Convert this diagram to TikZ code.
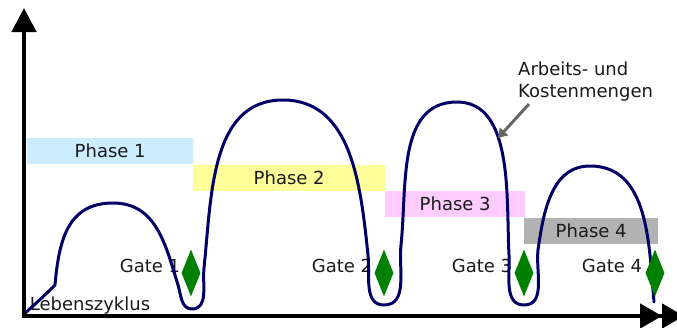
\documentclass[tikz,border=0pt]{standalone}
\usepackage{fontspec}
\setmainfont{DejaVu Sans}
\usetikzlibrary{arrows.meta,shapes.geometric}
\definecolor{curvecol}{HTML}{000066}
\definecolor{gatecol}{HTML}{008000}
\definecolor{p1col}{HTML}{CCECFF}
\definecolor{p2col}{HTML}{FFFF99}
\definecolor{p3col}{HTML}{FFCCFF}
\definecolor{p4col}{HTML}{B2B2B2}
\definecolor{txtcol}{HTML}{1A1A1A}
\definecolor{pointcol}{HTML}{666666}
\begin{document}
\begin{tikzpicture}[x=1pt,y=-1pt,
  lbl/.style={font=\fontsize{18}{22}\selectfont, text=txtcol, inner sep=0pt},
  phasebox/.style={lbl, anchor=north west, minimum height=26pt},
  gatemark/.style={diamond, fill=gatecol, draw=none, inner sep=0pt, minimum width=19pt, minimum height=47pt},
  axis/.style={line width=4.5pt, -{Triangle[length=24pt,width=24pt]}},
  haxis/.style={line width=4.5pt, -{Triangle[length=22pt,width=24pt]Triangle[length=22pt,width=24pt]}},
  curve/.style={draw=curvecol, line width=3pt, line join=round, line cap=round},
  pointer/.style={draw=pointcol, line width=3pt, -{Triangle[length=9pt,width=11pt]}}
]
\useasboundingbox (0,0) rectangle (677,327);
% phases
\node[phasebox, fill=p1col, minimum width=166pt] (ph1) at (27,138) {Phase 1};
\node[phasebox, fill=p2col, minimum width=192pt] (ph2) at (193,165) {Phase 2};
\node[phasebox, fill=p3col, minimum width=140pt] (ph3) at (385,191) {Phase 3};
\node[phasebox, fill=p4col, minimum width=134pt] (ph4) at (524,218) {Phase 4};
% gate labels
\node[lbl] (g1t) at (150,266) {Gate 1};
\node[lbl] (g2t) at (342,266) {Gate 2};
\node[lbl] (g3t) at (482,266) {Gate 3};
\node[lbl] (g4t) at (612,266) {Gate 4};
\node[lbl] (life) at (90,306) {Lebenszyklus};
% curve
\draw[curve] (23,315) to[out=42,in=-135] (55,285)
  to[out=85,in=180,looseness=1.15] (113,203)
  to[out=0,in=107,looseness=1.05] (178,285)
  to[out=-73,in=180] (192,309)
  to[out=0,in=-96] (204,268)
  to[out=84,in=180] (283,100)
  to[out=0,in=96] (368,255)
  to[out=-84,in=180] (384,305)
  to[out=0,in=-96] (401,245)
  to[out=84,in=180] (457,102)
  to[out=0,in=93,looseness=0.9] (509,255)
  to[out=-87,in=180] (524,305)
  to[out=0,in=-96] (538,250)
  to[out=82,in=180] (590,166)
  to[out=0,in=95] (654,302);
% gates
\node[gatemark] (g1) at (191,273) {};
\node[gatemark] (g2) at (384,273) {};
\node[gatemark] (g3) at (524,273) {};
\node[gatemark] (g4) at (655,273) {};
% axes
\coordinate (o) at (24,316);
\coordinate (ytip) at (24,8);
\coordinate (xtip) at (684,316);
\draw[axis] (o) -- (ytip);
\draw[haxis] ([xshift=-2.25pt]o) -- (xtip);
% annotation
\node[lbl, anchor=north west, align=left] (ann) at (518,62) {Arbeits- und\\Kostenmengen};
\coordinate (annfrom) at (529,104);
\coordinate (anntip) at (498,138);
\draw[pointer] (annfrom) -- (anntip);
\end{tikzpicture}
\end{document}
